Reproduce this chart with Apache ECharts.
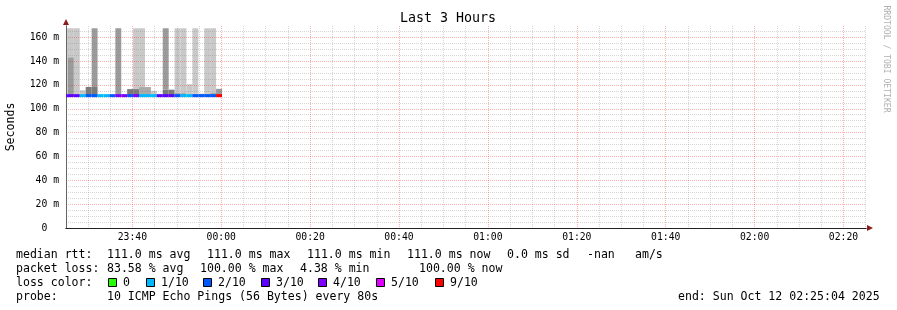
<!DOCTYPE html>
<html><head><meta charset="utf-8">
<script src="https://cdn.jsdelivr.net/npm/echarts@6/dist/echarts.min.js"></script>
<style>html,body{margin:0;padding:0;background:#fff}#c{width:897px;height:310px}</style>
</head><body><div id="c"></div>
<script>
// ---------------- data ----------------
const title = 'Last 3 Hours';
const yAxisName = 'Seconds';
const watermark = 'RRDTOOL / TOBI OETIKER';
const timeStart = '23:25:04';
const timeEnd = '02:25:04';
const stepSeconds = 80;
const binStarts = ['23:24:10','23:25:30','23:26:50','23:28:10','23:29:30','23:30:50','23:32:10','23:33:30','23:34:50',
  '23:36:10','23:37:30','23:38:50','23:40:10','23:41:30','23:42:50','23:44:10','23:45:30','23:46:50','23:48:10',
  '23:49:30','23:50:50','23:52:10','23:53:30','23:54:50','23:56:10','23:57:30','23:58:50'];
// median rtt (ms) per bin
const medianMs = [111,111,111,111,111,111,111,111,111,111,111,111,111,111,111,111,111,111,111,111,111,111,111,111,111,111,111];
// loss bucket index per bin (index into lossLabels)
const lossLevel = [3,3,3,1,2,2,1,1,2,4,4,2,4,1,1,1,3,3,3,2,1,1,2,2,2,2,6];
// smoke layers: bin index, low (ms), high (ms), shade level (0 light .. 3 dark)
const smokeBin   = [0, 1, 1, 2, 3, 4, 5, 5, 9, 11, 12, 12, 13, 13, 14, 15, 17, 17, 18, 19, 19, 20, 20, 21, 22, 22, 23, 24, 24, 25, 25, 26];
const smokeLow   = [111,111,143.2,111,111,111,111,118.3,111,111,111,116.5,111,118.2,111,111,111,116,111,111,113.3,111,113.3,111,111,112.6,111,111,112.6,111,113.2,111];
const smokeHigh  = [167.5,143.2,167.5,167.5,115.5,118.3,118.3,167.5,167.5,116.5,116.5,167.5,118.2,167.5,118.2,115,116,167.5,116,113.3,167.5,113.3,167.5,120.6,112.6,167.5,112.6,112.6,167.5,113.2,167.5,116.7];
const smokeShade = [0, 2, 0, 0, 0, 3, 3, 2, 2, 3, 3, 0, 1, 0, 1, 0, 3, 2, 3, 1, 0, 1, 0, 0, 1, 0, 1, 1, 0, 1, 0, 2];
const xMajorLabels = ['23:40','00:00','00:20','00:40','01:00','01:20','01:40','02:00','02:20'];
const yMajorTicks = [0,20,40,60,80,100,120,140,160];
const yMinorStep = 5;
const yMax = 169.4;
const lossLabels = ['0','1/10','2/10','3/10','4/10','5/10','9/10'];
const statLabels = ['median rtt:','packet loss:','loss color:','probe:'];
const rttStats = ['111.0 ms avg','111.0 ms max','111.0 ms min','111.0 ms now','0.0 ms sd','-nan','am/s'];
const lossStats = ['83.58 % avg','100.00 % max','4.38 % min','100.00 % now'];
const probeText = '10 ICMP Echo Pings (56 Bytes) every 80s';
const endText = 'end: Sun Oct 12 02:25:04 2025';

// ---------------- styles ----------------
const lossColors = ['#26ff00','#00b8ff','#0059ff','#5e00ff','#7e00ff','#dd00ff','#ff0000'];
const shadeColors = ['#c9c9c9','#a9a9a9','#9b9b9b','#7b7b7b'];
const FONT = 'DejaVu Sans Mono';
const LEG = 11.55;
const majorGrid = {color:'rgba(255,0,0,0.3)', type:[1,1], width:1};
const minorGrid = {color:'rgba(128,128,128,0.32)', type:[1,1], width:1};
const arrowColor = '#8b1c1c';

function toSec(s){ const p=s.split(':').map(Number); let v=p[0]*3600+p[1]*60+(p[2]||0); if(p[0]>=12) v-=86400; return v; }
const xMin = toSec(timeStart), xMax = toSec(timeEnd);
const majorSecs = xMajorLabels.map(toSec);
const minorSecs = [];
for (let t = Math.ceil(xMin/300)*300; t <= xMax; t += 300) if (majorSecs.indexOf(t) < 0) minorSecs.push(t);
const yMinor = [];
for (let v = yMinorStep; v <= yMax; v += yMinorStep) if (yMajorTicks.indexOf(v) < 0) yMinor.push(v);
const binSec = binStarts.map(toSec);
const smokeData = smokeBin.map((b,i)=>[binSec[b], binSec[b]+stepSeconds, smokeLow[i], smokeHigh[i], smokeShade[i]]);
const medianData = binSec.map((t,i)=>[t, t+stepSeconds, medianMs[i], lossLevel[i]]);

function fmtX(v){ const i = majorSecs.indexOf(v); return i>=0 ? xMajorLabels[i] : ''; }

const chart = echarts.init(document.getElementById('c'), null, {renderer:'canvas', width:897, height:310});

const texts = [];
function txt(x,y,s,opt){ texts.push(Object.assign({type:'text', x:x, y:y, silent:true,
  style:Object.assign({text:s, font:LEG+'px "'+FONT+'"', fill:'#000', textAlign:'left', textVerticalAlign:'middle'}, opt&&opt.style||{})},
  opt&&opt.rotation!==undefined?{rotation:opt.rotation}:{})); }
txt(448, 19, title, {style:{font:'13.3px "'+FONT+'"', textAlign:'center'}});
txt(11, 127, yAxisName, {rotation:Math.PI/2, style:{textAlign:'center'}});
txt(886, 59, watermark, {rotation:-Math.PI/2, style:{font:'8.1px "'+FONT+'"', fill:'#b0b0b0', textAlign:'center'}});
const lineY = [255, 269, 283, 297];
statLabels.forEach((s,i)=>txt(16, lineY[i], s));
const rttX = [107,207,307,407,507,587,635];
rttStats.forEach((s,i)=>txt(rttX[i], lineY[0], s));
const lossX = [107,200,300,419];
lossStats.forEach((s,i)=>txt(lossX[i], lineY[1], s));
const boxX = [108,146,203,261,318,376,435];
lossLabels.forEach((s,i)=>{
  texts.push({type:'rect', silent:true, shape:{x:boxX[i]+0.5, y:lineY[2]-4.5, width:8, height:8},
    style:{fill:lossColors[i], stroke:'#000', lineWidth:1}});
  txt(boxX[i]+15, lineY[2], s);
});
txt(107, lineY[3], probeText);
txt(678, lineY[3], endText);

const axisFont = {fontFamily:FONT, fontSize:9.75, color:'#000'};

chart.setOption({
  animation:false,
  backgroundColor:'#ffffff',
  grid:{left:66, right:31, top:26, bottom:82, containLabel:false},
  xAxis:[
    {type:'value', min:xMin, max:xMax, z:6, position:'bottom',
     axisLine:{show:true, onZero:false, lineStyle:{color:'#222', width:1}},
     axisTick:{show:false, customValues:majorSecs},
     axisLabel:Object.assign({customValues:majorSecs, formatter:fmtX, margin:4, lineHeight:10}, axisFont),
     splitLine:{show:true, lineStyle:majorGrid}},
    {type:'value', min:xMin, max:xMax, z:3, position:'bottom', offset:0,
     axisLine:{show:true, onZero:false, symbol:['none','triangle'], symbolSize:[6,6], symbolOffset:[0,4], lineStyle:{color:arrowColor, width:1}},
     axisTick:{show:false, customValues:minorSecs},
     axisLabel:{show:false},
     splitLine:{show:true, lineStyle:minorGrid}}
  ],
  yAxis:[
    {type:'value', min:0, max:yMax, z:5, position:'left',
     axisLine:{show:true, onZero:false, lineStyle:{color:'#666', width:1}},
     axisTick:{show:false, customValues:yMajorTicks},
     axisLabel:Object.assign({customValues:yMajorTicks, margin:7, formatter:v=> v===0 ? '0  ' : v+' m'}, axisFont),
     splitLine:{show:true, lineStyle:majorGrid}},
    {type:'value', min:0, max:yMax, z:3, position:'left', offset:0,
     axisLine:{show:true, onZero:false, symbol:['none','triangle'], symbolSize:[6,6], symbolOffset:[0,4], lineStyle:{color:arrowColor, width:1}},
     axisTick:{show:false, customValues:yMinor},
     axisLabel:{show:false},
     splitLine:{show:true, lineStyle:minorGrid}}
  ],
  series:[
    {type:'custom', name:'smoke', xAxisIndex:0, yAxisIndex:0, z:1, silent:true,
     encode:{x:[0,1], y:[2,3]}, data:smokeData,
     renderItem:function(params, api){
       const a = api.coord([api.value(0), api.value(3)]);
       const b = api.coord([api.value(1), api.value(2)]);
       const cs = params.coordSys;
       const r = echarts.graphic.clipRectByRect({x:a[0], y:a[1], width:b[0]-a[0], height:b[1]-a[1]},
         {x:cs.x, y:cs.y, width:cs.width, height:cs.height});
       if (!r) return;
       return {type:'rect', shape:r, style:{fill:shadeColors[api.value(4)]}};
     }},
    {type:'custom', name:'median', xAxisIndex:0, yAxisIndex:0, z:10, silent:true,
     encode:{x:[0,1], y:2}, data:medianData,
     renderItem:function(params, api){
       const cs = params.coordSys;
       const a = api.coord([api.value(0), api.value(2)]);
       const b = api.coord([api.value(1), api.value(2)]);
       const x0 = Math.max(a[0], cs.x), x1 = Math.min(b[0], cs.x+cs.width);
       if (x1 <= x0) return;
       return {type:'rect', shape:{x:x0, y:a[1]-1.5, width:x1-x0, height:3}, style:{fill:lossColors[api.value(3)]}};
     }}
  ],
  graphic:texts
});
</script></body></html>
